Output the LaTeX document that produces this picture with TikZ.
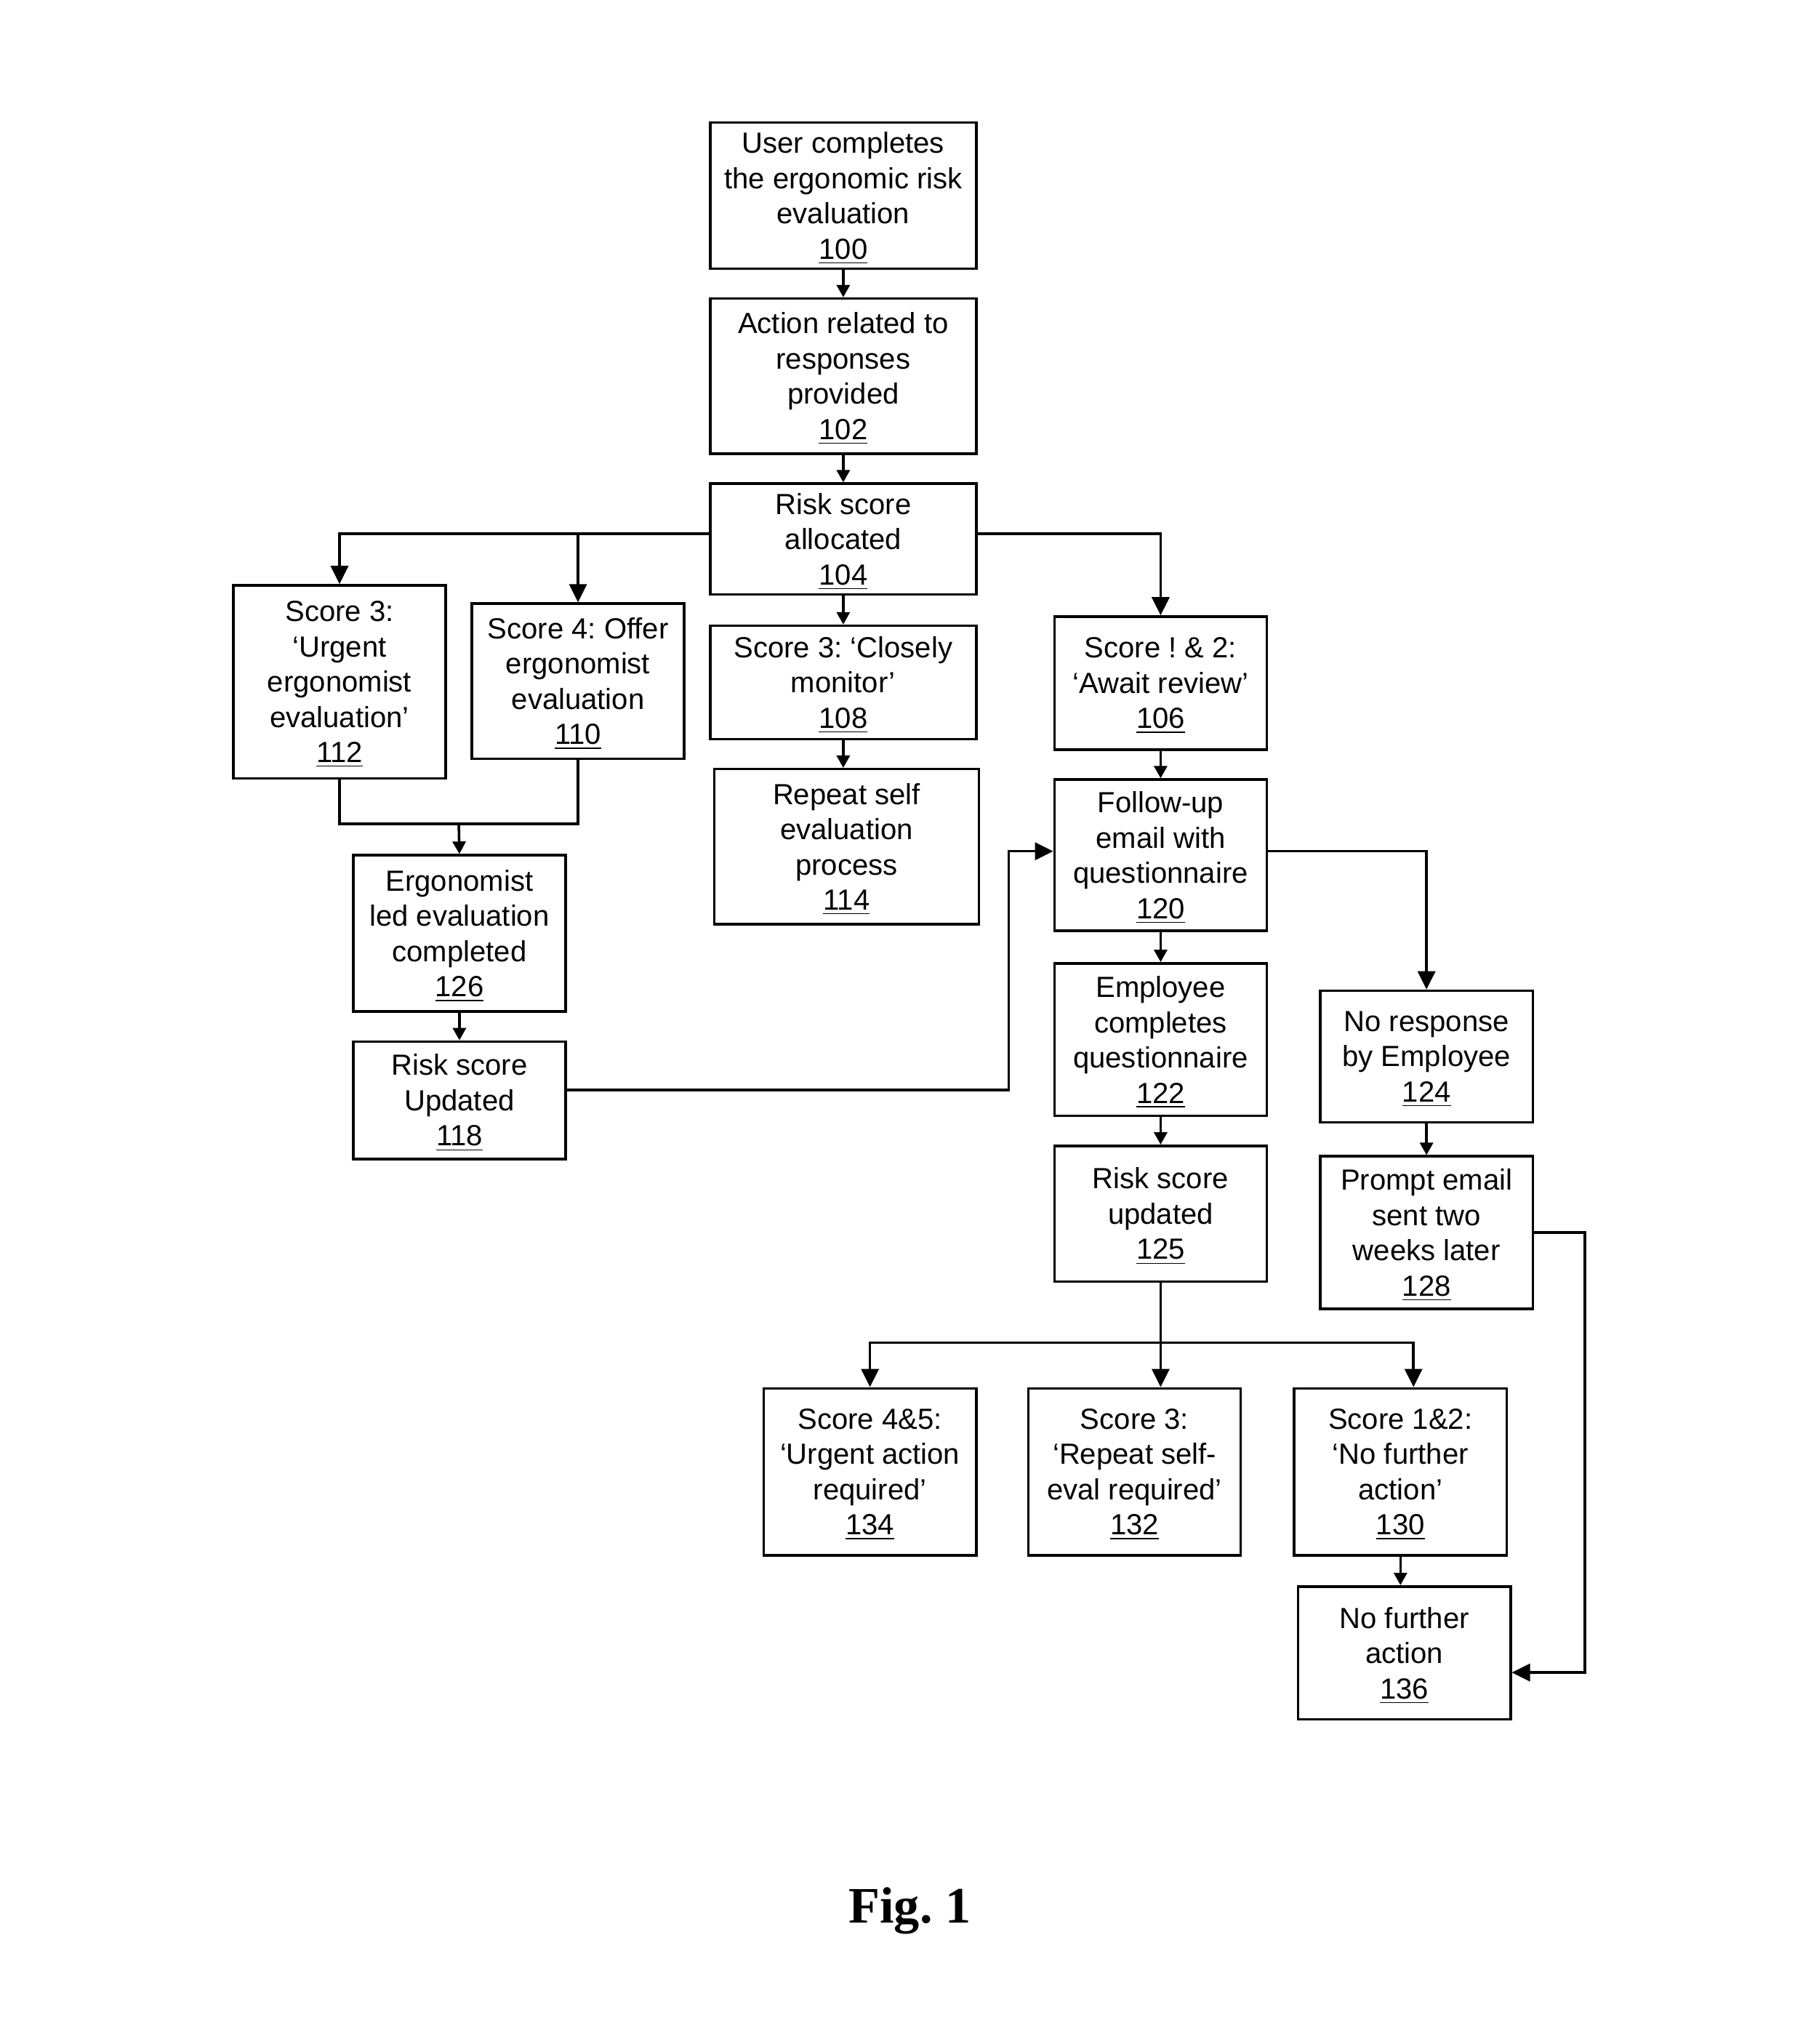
\documentclass[tikz,border=0pt]{standalone}
\usepackage{fontspec}
\setmainfont{Liberation Sans}
\newfontfamily\figfont{Liberation Serif}
\usetikzlibrary{arrows.meta,calc}
\begin{document}
\frenchspacing
\begin{tikzpicture}[x=0.1793mm,y=-0.1793mm,
  box/.style={draw, line width=1pt, inner sep=0pt},
  txt/.style={align=center, inner sep=0pt, font=\fontsize{11.4}{13.8}\selectfont\frenchspacing},
  conn/.style={line width=1pt},
  big/.style={conn,-{Triangle[length=2.5mm,width=2.4mm]}},
  small/.style={conn,-{Triangle[length=1.7mm,width=1.8mm]}}]
\useasboundingbox (0,0) rectangle (1377,1568);
\newcommand\bx[6]{\node[box, minimum width={(#4-#2)*0.1793mm}, minimum height={(#5-#3)*0.1793mm}] (#1) at ({(#2+#4)/2},{(#3+#5)/2}) {};
  \node[txt] (#1t) at ({(#2+#4)/2},{(#3+#5)/2+2}) {#6};}

\bx{n100}{545}{94}{749}{206}{User completes\\the ergonomic risk\\evaluation\\\underline{100}}
\bx{n102}{545}{229}{749}{348}{Action related to\\responses\\provided\\\underline{102}}
\bx{n104}{545}{371}{749}{456}{Risk score\\allocated\\\underline{104}}
\bx{n112}{179}{449}{342}{597}{Score 3:\\‘Urgent\\ergonomist\\evaluation’\\\underline{112}}
\bx{n110}{362}{463}{525}{582}{Score 4: Offer\\ergonomist\\evaluation\\\underline{110}}
\bx{n108}{545}{480}{749}{567}{Score 3: ‘Closely\\monitor’\\\underline{108}}
\bx{n106}{809}{473}{972}{575}{Score ! \& 2:\\‘Await review’\\\underline{106}}
\bx{n114}{548}{590}{751}{709}{Repeat self\\evaluation\\process\\\underline{114}}
\bx{n120}{809}{598}{972}{714}{Follow-up\\email with\\questionnaire\\\underline{120}}
\bx{n126}{271}{656}{434}{776}{Ergonomist\\led evaluation\\completed\\\underline{126}}
\bx{n118}{271}{799}{434}{889}{Risk score\\Updated\\\underline{118}}
\bx{n122}{809}{739}{972}{856}{Employee\\completes\\questionnaire\\\underline{122}}
\bx{n124}{1013}{760}{1176}{861}{No response\\by Employee\\\underline{124}}
\bx{n125}{809}{879}{972}{983}{Risk score\\updated\\\underline{125}}
\bx{n128}{1013}{887}{1176}{1004}{Prompt email\\sent two\\weeks later\\\underline{128}}
\bx{n134}{586}{1065}{749}{1193}{Score 4\&5:\\‘Urgent action\\required’\\\underline{134}}
\bx{n132}{789}{1065}{952}{1193}{Score 3:\\‘Repeat self-\\eval required’\\\underline{132}}
\bx{n130}{993}{1065}{1156}{1193}{Score 1\&2:\\‘No further\\action’\\\underline{130}}
\bx{n136}{996}{1217}{1159}{1319}{No further\\action\\\underline{136}}

\node[font=\figfont\bfseries\fontsize{20}{24}\selectfont] (fig) at (698,1466) {Fig. 1};

% connectors
\draw[small] (n100.south) -- (n102.north);
\draw[small] (n102.south) -- (n104.north);
\coordinate (r) at ($(n104.west)+(0,-4)$);
\coordinate (rr) at ($(n104.east)+(0,-4)$);
\draw[big] (r) -| (n112.north);
\draw[big] (n110.north |- r) -- (n110.north);
\draw[big] (rr) -| (n106.north);
\draw[small] (n104.south) -- (n108.north);
\draw[small] (n108.south) -- (n108.south |- n114.north);

\coordinate (m) at (352,632);
\draw[conn] (n112.south) |- (m) -| (n110.south);
\draw[small] (m) -- (n126.north);
\draw[small] (n126.south) -- (n118.north);

\coordinate (j) at (774,0);
\coordinate (q) at ($(n120.west)+(0,-3)$);
\coordinate (q2) at ($(n120.east)+(0,-3)$);
\draw[big] ($(n118.east)+(0,-8)$) -| (j |- q) -- (q);

\draw[small] (n106.south) -- (n120.north);
\draw[big] (q2) -| (n124.north);
\draw[small] (n120.south) -- (n122.north);
\draw[small] (n122.south) -- (n125.north);
\draw[small] (n124.south) -- (n128.north);

\coordinate (k) at (1216,0);
\draw[big] (n128.east) -- (n128.east -| k) |- ($(n136.east)+(0,15)$);

\coordinate (b) at (891,1030);
\draw[big] (n125.south) -- (n125.south |- n132.north);
\draw[big] (b) -| (n134.north);
\draw[big] (b) -| ($(n130.north)+(10,0)$);
\draw[small] (n130.south) -- (n130.south |- n136.north);
\end{tikzpicture}
\end{document}
